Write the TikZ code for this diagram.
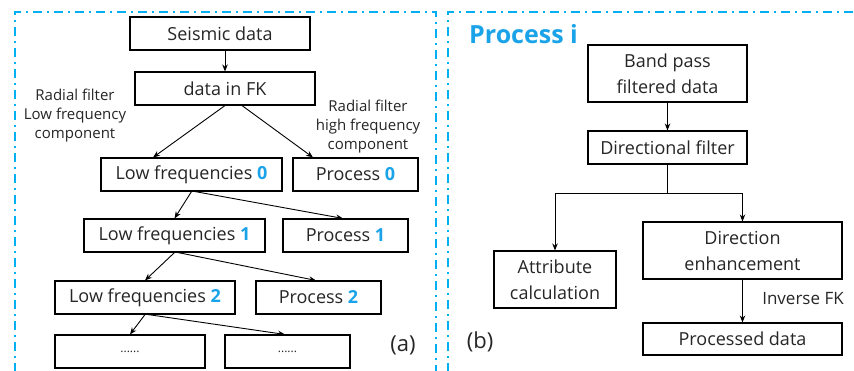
\documentclass[tikz,border=0pt]{standalone}
\usepackage{fontspec}
\setmainfont{Open Sans}
\usetikzlibrary{arrows.meta,calc}
\definecolor{cyanblue}{HTML}{00B0F0}
\definecolor{numblue}{HTML}{1AA3E8}
\definecolor{txt}{HTML}{262626}
\newcommand{\bn}[1]{\textcolor{numblue}{\textbf{#1}}}
\begin{document}
\begin{tikzpicture}[x=1pt,y=-1pt,
  box/.style={draw=black,line width=1.1pt,minimum height=33pt,inner sep=0pt,align=center,
     font=\fontsize{18}{26}\selectfont,text=txt},
  arr/.style={-{Stealth[length=7pt,width=5.5pt]},line width=0.9pt},
  lnk/.style={line width=0.9pt},
  frame/.style={draw=cyanblue,line width=2pt,dash pattern=on 9pt off 5pt on 2pt off 5pt},
  lbl/.style={align=center,font=\fontsize{15}{19}\selectfont,text=txt,inner sep=0pt}]
\useasboundingbox (0,0) rectangle (854,370);
\fill[white] (0,0) rectangle (854,370);
% frames
\draw[frame] (15,372) -- (15,12) -- (436,12) -- (436,372);
\draw[frame] (448,372) -- (448,12) -- (856,12);
% left tree
\node[box,minimum width=180pt] (seis) at (220,33.5) {Seismic data};
\node[box,minimum width=180pt] (fk) at (225,88.5) {data in FK};
\node[box,minimum width=181pt] (low0) at (191.5,174.5) {Low frequencies \bn{0}};
\node[box,minimum width=125pt] (p0) at (355.5,174.5) {Process \bn{0}};
\node[box,minimum width=181pt] (low1) at (174.5,235.5) {Low frequencies \bn{1}};
\node[box,minimum width=125pt] (p1) at (345.5,235.5) {Process \bn{1}};
\node[box,minimum width=180pt] (low2) at (145,297.5) {Low frequencies \bn{2}};
\node[box,minimum width=125pt] (p2) at (318.5,297.5) {Process \bn{2}};
\node[box,minimum width=150pt] (d1) at (130,351.5) {\fontsize{12}{14}\selectfont ......};
\node[box,minimum width=125pt] (d2) at (287.5,351.5) {\fontsize{12}{14}\selectfont ......};
\draw[arr] (seis.south -| fk.center) -- (fk.north);
\draw[arr] (fk.south) -- ([xshift=-38.5pt]low0.north);
\draw[arr] ([xshift=17pt]fk.south) -- ([xshift=-42.5pt]p0.north);
\draw[arr] (low0.south) -- (low1.north);
\draw[arr] ([xshift=3.5pt]low0.south) -- ([xshift=-2.5pt]p1.north);
\draw[arr] (low1.south) -- (low2.north);
\draw[arr] ([xshift=3.5pt]low1.south) -- ([xshift=-2.5pt]p2.north);
\draw[arr] (low2.south) -- (d1.north);
\draw[arr] ([xshift=3pt]low2.south) -- ([xshift=-2.5pt]d2.north);
\node[lbl] (lblL) at (75,116) {Radial filter\\Low frequency\\component};
\node[lbl] (lblR) at (368,127) {Radial filter\\high frequency\\component};
\node[text=txt,font=\fontsize{22}{26}\selectfont,inner sep=0pt] (a) at (403,345) {(a)};
% right
\node[anchor=west,text=numblue,font=\fontsize{25}{30}\selectfont\bfseries,inner sep=0pt] (pi) at (469,34) {Process i};
\node[box,minimum width=159pt,minimum height=57pt] (bp) at (667.5,73.5) {Band pass\\filtered data};
\node[box,minimum width=159pt] (df) at (667.5,147.5) {Directional filter};
\node[box,minimum width=122pt,minimum height=57pt] (att) at (555,279.5) {Attribute\\calculation};
\node[box,minimum width=199pt,minimum height=57pt] (de) at (742.5,250.5) {Direction\\enhancement};
\node[box,minimum width=199pt,minimum height=32pt] (pd) at (742.5,339) {Processed data};
\coordinate (j) at (667.5,193);
\draw[arr] (bp.south) -- (df.north);
\draw[lnk] (df.south) -- (j);
\draw[arr] (j) -| (att.north);
\draw[arr] (j) -| (de.north);
\draw[arr] (de.south) -- (pd.north);
\node[text=txt,font=\fontsize{17}{20}\selectfont,inner sep=0pt] (inv) at (803,299) {Inverse FK};
\node[text=txt,font=\fontsize{22}{26}\selectfont,inner sep=0pt] (b) at (480,342) {(b)};
\end{tikzpicture}
\end{document}
